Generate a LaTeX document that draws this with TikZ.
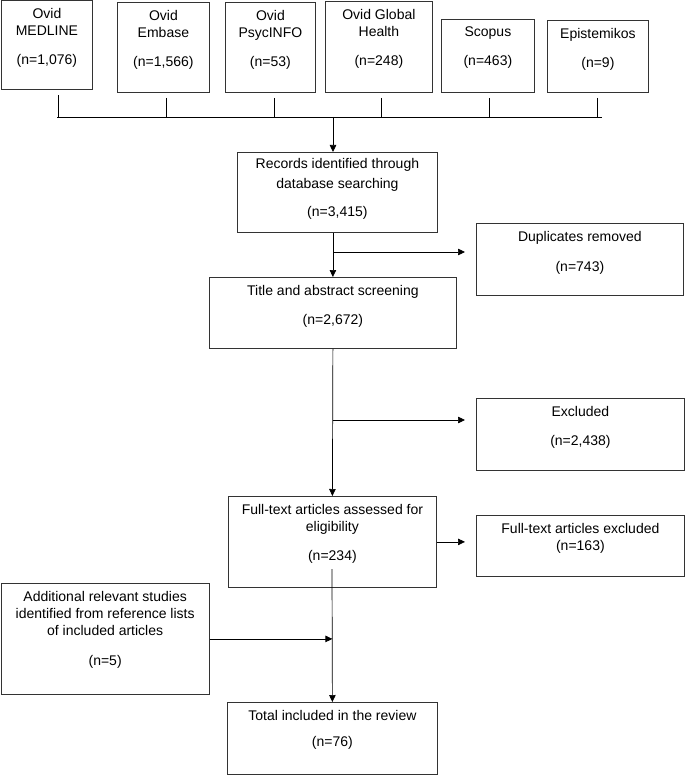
\documentclass[tikz,border=0pt]{standalone}
\usepackage{fontspec}
\setmainfont{Liberation Sans}
\usetikzlibrary{arrows.meta,positioning}

\tikzset{
  box/.style={draw=black!80, line width=0.8pt, anchor=north west, inner sep=0pt},
  boxtext/.style={anchor=north, align=center, inner sep=0pt, yshift=-8pt,
      font=\fontsize{14}{17}\selectfont},
  link/.style={line width=0.7pt},
  arr/.style={link, -{Triangle[length=7pt,width=6.5pt]}},
  gaparr/.style={arr, shorten >=11pt}
}
\def\BusY {117}

\begin{document}
\begin{tikzpicture}[x=1pt,y=-1pt]
        \useasboundingbox (0,0) rectangle (685,775);
        % databases and their drops to the bus
        \foreach \i/\bx/\by/\bw/\bh/\vx/\txt in {
            1/1/0.5/91/89/58/Ovid\\MEDLINE\\[12pt](n=1{,}076),
            2/117/2/92/90/166/Ovid\\Embase\\[12pt](n=1{,}566),
            3/225/2/90/90/274/Ovid\\PsycINFO\\[12pt](n=53),
            4/325/1/107/91/381/Ovid Global\\Health\\[12pt](n=248),
            5/441/19/93/73/489/Scopus\\[12pt](n=463),
            6/547/20/101/72/597/Epistemikos\\[12pt](n=9)} {
            \node[box, minimum width=\bw pt, minimum height=\bh pt,
              label={[boxtext]north:{\txt}}] (db\i) at (\bx,\by) {};
            \coordinate (v\i) at (\vx,\BusY);
            \draw[link] ([yshift=-5pt]db\i.south -| v\i) -- (v\i);
          }
        \coordinate (bus-l) at (57,\BusY);
        \coordinate (bus-r) at (602,\BusY);
        \coordinate (bus-c) at (333,\BusY);
        \draw[link] (bus-l) -- (bus-r);

        % main column
        \node[box, minimum width=200pt, minimum height=80pt,
          label={[boxtext, yshift=2pt]north:{Records identified through\\[3pt]database searching\\[11pt](n=3{,}415)}}] (rec) at (237,152) {};
        \node[box, minimum width=247pt, minimum height=71pt,
          label={[boxtext]north:{Title and abstract screening\\[12pt](n=2{,}672)}}] (title) at (209,277) {};
        \node[box, minimum width=208pt, minimum height=91pt,
          label={[boxtext]north:{Full-text articles assessed for\\eligibility\\[12pt](n=234)}}] (full) at (228,496) {};
        \node[box, minimum width=210pt, minimum height=72pt,
          label={[boxtext]north:{Total included in the review\\[9pt](n=76)}}] (total) at (227,702) {};

        % side boxes
        \node[box, minimum width=207pt, minimum height=72pt,
          label={[boxtext]north:{Duplicates removed\\[13pt](n=743)}}] (dup) at (476,223) {};
        \node[box, minimum width=208pt, minimum height=72pt,
          label={[boxtext]north:{Excluded\\[12pt](n=2{,}438)}}] (excl) at (476,398) {};
        \node[box, minimum width=208pt, minimum height=61pt,
          label={[boxtext]north:{Full-text articles excluded\\(n=163)}}] (ftex) at (476,515) {};
        \node[box, minimum width=208.5pt, minimum height=111pt,
          label={[boxtext]north:{Additional relevant studies\\identified from reference lists\\of included articles\\[13pt](n=5)}}] (add) at (0.5,583) {};

        % connectors
        \draw[arr] (bus-c) -- (rec.north -| bus-c);
        \draw[arr] (rec.south -| title.north) -- (title.north);
        \coordinate (j1) at (333,252);
        \draw[gaparr] (j1) -- (j1 -| dup.west);
        \draw[arr] (title.south) -- (full.north);
        \coordinate (j2) at (332.5,420);
        \draw[gaparr] (j2) -- (j2 -| excl.west);
        \draw[gaparr] (full.east) -- (full.east -| ftex.west);
        \coordinate (j3) at (332,569);
        \draw[arr] (j3) -- (total.north);
        \draw[arr] (add.east) -- (add.east -| total.north);
      \end{tikzpicture}
\end{document}
